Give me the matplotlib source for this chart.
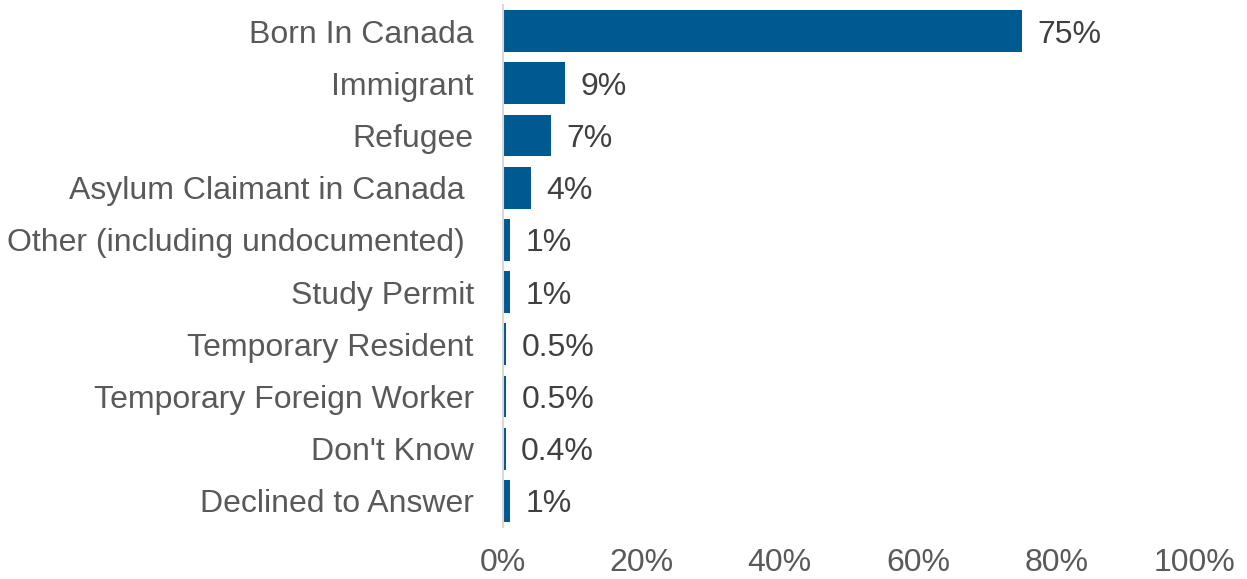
import matplotlib
matplotlib.use("Agg")
import matplotlib.pyplot as plt

plt.rcParams['font.family'] = ['Liberation Sans', 'DejaVu Sans']

categories = [
    "Born In Canada",
    "Immigrant",
    "Refugee",
    "Asylum Claimant in Canada ",
    "Other (including undocumented) ",
    "Study Permit",
    "Temporary Resident",
    "Temporary Foreign Worker",
    "Don't Know",
    "Declined to Answer",
]
values = [75, 9, 7, 4, 1, 1, 0.5, 0.5, 0.4, 1]
value_labels = ["75%", "9%", "7%", "4%", "1%", "1%", "0.5%", "0.5%", "0.4%", "1%"]
xticks = [0, 20, 40, 60, 80, 100]
xtick_labels = ["0%", "20%", "40%", "60%", "80%", "100%"]

bar_color = "#005A92"
label_color = "#595959"
value_color = "#404040"
fs = 23

fig = plt.figure(figsize=(12.47, 5.79), dpi=100)
ax = fig.add_axes([503 / 1247, 52 / 579, 692 / 1247, 522 / 579])

ypos = list(range(len(categories)))
ax.barh(ypos, values, height=0.8, color=bar_color)
ax.set_ylim(len(categories) - 0.5, -0.5)
ax.set_xlim(0, 100)

ax.set_yticks(ypos)
ax.set_yticklabels(categories, fontsize=fs, color=label_color)
ax.set_xticks(xticks)
ax.set_xticklabels(xtick_labels, fontsize=fs, color=label_color)
ax.tick_params(axis='y', length=0, pad=21)
ax.tick_params(axis='x', length=0, pad=15)

for s in ["top", "right", "bottom"]:
    ax.spines[s].set_visible(False)
ax.spines["left"].set_color("#D9D9D9")
ax.spines["left"].set_linewidth(1.5)

for y, v, lab in zip(ypos, values, value_labels):
    ax.annotate(lab, xy=(v, y), xytext=(11, 0), textcoords="offset points",
                va="center_baseline", ha="left", fontsize=fs, color=value_color)

fig.savefig("out.png", dpi=100, facecolor="white")
